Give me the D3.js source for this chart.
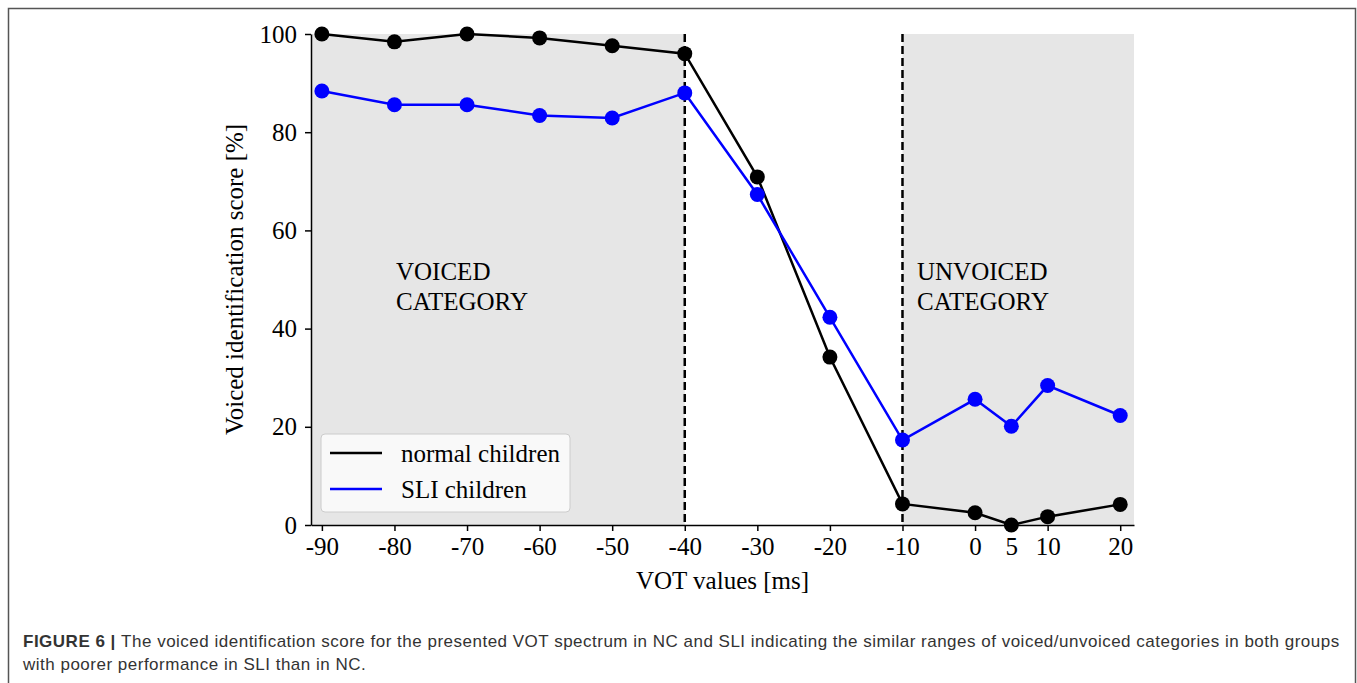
<!DOCTYPE html>
<html>
<head>
<meta charset="utf-8" />
<style>
html, body { margin: 0; padding: 0; background: #fff; }
svg text { font-family: "Liberation Serif", "Times New Roman", serif; }
svg text.caption { font-family: "Liberation Sans", Arial, sans-serif; }
</style>
</head>
<body>
<svg id="chart" width="1357" height="683"></svg>
<script src="https://cdn.jsdelivr.net/npm/d3@7"></script>
<script>
// data
var vot = [-90, -80, -70, -60, -50, -40, -30, -20, -10, 0, 5, 10, 20];
var normalChildren = [100, 98.4, 100, 99.2, 97.6, 96, 70.9, 34.2, 4.3, 2.5, 0, 1.7, 4.2];
var sliChildren = [88.4, 85.6, 85.6, 83.4, 82.9, 88, 67.3, 42.3, 17.3, 25.6, 20.1, 28.4, 22.3];
var xTicks = [-90, -80, -70, -60, -50, -40, -30, -20, -10, 0, 5, 10, 20];
var yTicks = [0, 20, 40, 60, 80, 100];
var boundaries = [-40, -10];

var svg = d3.select("#chart");
var fs = "25px";

// figure frame
svg.append("rect")
  .attr("x", 8.5).attr("y", 8.5)
  .attr("width", 1347).attr("height", 700)
  .attr("fill", "none").attr("stroke", "#555").attr("stroke-width", 1.5);

var pLeft = 311, pRight = 1134, pTop = 34, pBottom = 525;
var xMin = -91.5, xMax = 21.9;
var x = d3.scaleLinear().domain([xMin, xMax]).range([pLeft, pRight]);
var y = d3.scaleLinear().domain([0, 100]).range([pBottom, pTop]);

var g = svg.append("g");

// shaded category regions
g.append("rect")
  .attr("x", x(xMin)).attr("y", pTop)
  .attr("width", x(boundaries[0]) - x(xMin)).attr("height", pBottom - pTop)
  .attr("fill", "#e6e6e6");
g.append("rect")
  .attr("x", x(boundaries[1])).attr("y", pTop)
  .attr("width", x(xMax) - x(boundaries[1])).attr("height", pBottom - pTop)
  .attr("fill", "#e6e6e6");

// dashed boundaries
g.selectAll(".bound").data(boundaries).enter().append("line")
  .attr("x1", d => x(d)).attr("x2", d => x(d))
  .attr("y1", pTop).attr("y2", pBottom)
  .attr("stroke", "#000").attr("stroke-width", 2.5)
  .attr("stroke-dasharray", "8,4");

// category labels
var labels = g.append("g").style("font-size", fs).attr("fill", "#000");
labels.append("text").attr("x", 396).attr("y", 280).text("VOICED");
labels.append("text").attr("x", 396).attr("y", 310).text("CATEGORY");
labels.append("text").attr("x", 917).attr("y", 280).text("UNVOICED");
labels.append("text").attr("x", 917).attr("y", 310).text("CATEGORY");

// series
var series = [
  { name: "normal children", values: normalChildren, color: "#000" },
  { name: "SLI children", values: sliChildren, color: "#0000ff" }
];
var line = d3.line().x(d => x(d[0])).y(d => y(d[1]));

series.forEach(function(s) {
  var pts = vot.map((v, i) => [v, s.values[i]]);
  g.append("path").datum(pts)
    .attr("d", line)
    .attr("fill", "none").attr("stroke", s.color).attr("stroke-width", 2.5);
  g.selectAll(null).data(pts).enter().append("circle")
    .attr("cx", d => x(d[0])).attr("cy", d => y(d[1]))
    .attr("r", 7.5).attr("fill", s.color);
});

// axes
var xAxis = svg.append("g").attr("transform", "translate(0," + pBottom + ")")
  .call(d3.axisBottom(x).tickValues(xTicks).tickSize(6).tickSizeOuter(0).tickPadding(6));
var yAxis = svg.append("g").attr("transform", "translate(" + pLeft + ",0)")
  .call(d3.axisLeft(y).tickValues(yTicks).tickSize(6).tickSizeOuter(0).tickPadding(8));
[xAxis, yAxis].forEach(function(a) {
  a.select(".domain").attr("stroke-width", 1.5);
  a.selectAll(".tick line").attr("stroke-width", 1.5);
  a.selectAll("text").style("font-family", "'Liberation Serif', serif")
    .style("font-size", fs).attr("fill", "#000");
});
xAxis.selectAll(".tick text").text(d => d);

svg.append("text")
  .attr("x", (pLeft + pRight) / 2).attr("y", 589)
  .attr("text-anchor", "middle").style("font-size", fs)
  .text("VOT values [ms]");
svg.append("text")
  .attr("transform", "translate(243," + (pTop + pBottom) / 2 + ") rotate(-90)")
  .attr("text-anchor", "middle").style("font-size", fs)
  .text("Voiced identification score [%]");

// legend
var lg = svg.append("g");
lg.append("rect")
  .attr("x", 321).attr("y", 434).attr("width", 249).attr("height", 78)
  .attr("rx", 4).attr("fill", "#f9f9f9").attr("stroke", "#cccccc").attr("stroke-width", 1);
series.forEach(function(s, i) {
  var ly = 453 + i * 36;
  lg.append("line").attr("x1", 330).attr("x2", 382).attr("y1", ly).attr("y2", ly)
    .attr("stroke", s.color).attr("stroke-width", 2.5);
  lg.append("text").attr("x", 401).attr("y", ly + 9).style("font-size", fs).text(s.name);
});

// caption
var cap = svg.append("g").attr("fill", "#333").style("font-size", "17px").style("letter-spacing", "0.5px");
var t1 = cap.append("text").attr("class", "caption").attr("x", 23).attr("y", 647);
t1.append("tspan").style("font-weight", "bold").text("FIGURE 6 | ");
t1.append("tspan").text("The voiced identification score for the presented VOT spectrum in NC and SLI indicating the similar ranges of voiced/unvoiced categories in both groups");
cap.append("text").attr("class", "caption").attr("x", 23).attr("y", 670)
  .text("with poorer performance in SLI than in NC.");
</script>
</body>
</html>
